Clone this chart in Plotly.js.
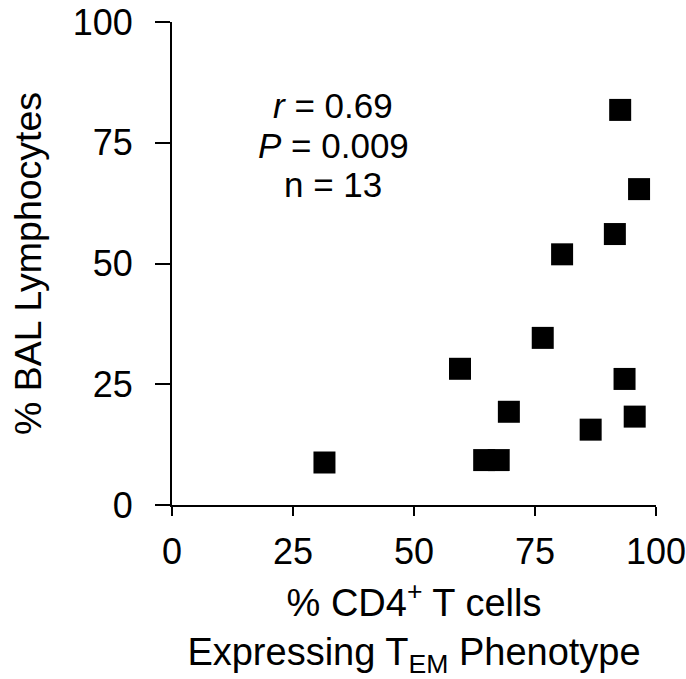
<!DOCTYPE html>
<html>
<head>
<meta charset="utf-8">
<script src="https://cdn.plot.ly/plotly-3.0.1.min.js"></script>
<style>html,body{margin:0;padding:0;background:#fff;}#chart{width:686px;height:679px;}</style>
</head>
<body>
<div id="chart"></div>
<script>
// % CD4+ T cells expressing TEM phenotype
const pctTEM = [31.5, 59.5, 76.6, 69.6, 64.5, 67.5, 86.5, 93.5, 95.6, 92.6, 96.5, 91.5, 80.6];
// % BAL lymphocytes
const pctBAL = [8.8, 28.2, 34.6, 19.3, 9.3, 9.3, 15.6, 26.1, 18.3, 81.8, 65.4, 56.1, 51.9];
const tickVals = [0, 25, 50, 75, 100];
const statLines = ["<i>r</i> = 0.69", "<i>P</i> = 0.009", "n = 13"];

const FONT = "Liberation Sans, Arial, sans-serif";

const trace = {
  x: pctTEM, y: pctBAL, type: "scatter", mode: "markers",
  marker: {symbol: "square", size: 22, color: "#000", line: {width: 0}},
  cliponaxis: false, hoverinfo: "none"
};

const statY = [82.8, 74.5, 66.3];
const annotations = statLines.map((t, i) => ({
  x: 33.3, y: statY[i], xref: "x", yref: "y", text: t, showarrow: false,
  xanchor: "center", yanchor: "middle", font: {family: FONT, size: 35, color: "#000"}
}));

const axisCommon = {
  range: [0, 100], tickvals: tickVals, ticktext: tickVals.map(String),
  showgrid: false, zeroline: false, showline: true, linecolor: "#000", linewidth: 2,
  ticks: "outside", tickcolor: "#000", tickwidth: 2, ticklabeloverflow: "allow",
  tickfont: {family: FONT, size: 36, color: "#000"}, fixedrange: true
};

const layout = {
  width: 686, height: 679,
  margin: {l: 172, r: 30, t: 22, b: 174},
  paper_bgcolor: "#fff", plot_bgcolor: "#fff",
  showlegend: false,
  font: {family: FONT, color: "#000"},
  xaxis: Object.assign({}, axisCommon, {
    ticklen: 9, ticklabelstandoff: 5,
    title: {text: "% CD4<sup>+</sup> T cells<br>Expressing T<sub>EM</sub> Phenotype",
            font: {family: FONT, size: 38, color: "#000"}, standoff: 34}
  }),
  yaxis: Object.assign({}, axisCommon, {
    ticklen: 15, ticklabelstandoff: 15,
    title: {text: "% BAL Lymphocytes", font: {family: FONT, size: 37.5, color: "#000"}, standoff: 20}
  }),
  annotations: annotations
};

Plotly.newPlot("chart", [trace], layout, {displayModeBar: false, staticPlot: true});
</script>
</body>
</html>
